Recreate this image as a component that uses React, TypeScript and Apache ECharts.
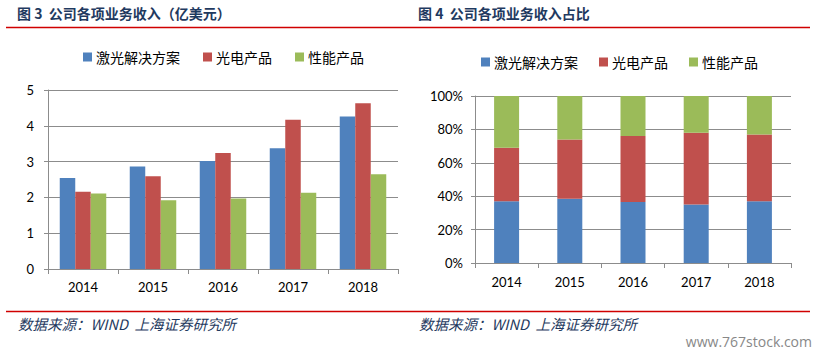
import React, { useEffect, useRef } from "react";
import * as echarts from "echarts";

const years = ["2014", "2015", "2016", "2017", "2018"];
const seriesNames = ["激光解决方案", "光电产品", "性能产品"];
const laserRevenue = [2.54, 2.86, 3.02, 3.37, 4.26];
const optoRevenue = [2.16, 2.59, 3.24, 4.17, 4.63];
const perfRevenue = [2.11, 1.92, 1.97, 2.13, 2.65];
const laserShare = [37, 38.5, 36.5, 35, 37];
const optoShare = [32, 35.5, 39.5, 43, 40];
const perfShare = [31, 26, 24, 22, 23];
const leftTitle = "图 3  公司各项业务收入（亿美元）";
const rightTitle = "图 4  公司各项业务收入占比";
const sourceText = "数据来源：WIND  上海证券研究所";
const watermark = "www.767stock.com";

const colors = ["#4F81BD", "#C0504D", "#9BBB59"];
const gridGray = "#8C8C8C";
const numFont = "Lato, 'Open Sans', sans-serif";
const cjkFont = "'Noto Sans CJK SC', sans-serif";

export default function App() {
  const ref = useRef<HTMLDivElement>(null);
  useEffect(() => {
    if (!ref.current) return;
    const chart = echarts.init(ref.current, undefined, { renderer: "svg" });
    const xAxisBase = (gridIndex: number, margin: number) => ({
      type: "category",
      gridIndex,
      data: years,
      axisLine: { show: true, lineStyle: { color: gridGray, width: 1 } },
      axisTick: { show: true, length: 5, lineStyle: { color: gridGray } },
      axisLabel: { color: "#000", fontSize: 13, fontFamily: numFont, margin },
    });
    const yAxisBase = (gridIndex: number) => ({
      type: "value",
      gridIndex,
      axisLine: { show: true, lineStyle: { color: gridGray, width: 1 } },
      axisTick: { show: true, length: 4, lineStyle: { color: gridGray } },
      splitLine: { show: true, lineStyle: { color: gridGray, width: 1 } },
    });
    const legendBase = {
      icon: "rect",
      itemWidth: 9,
      itemHeight: 9,
      data: seriesNames,
      textStyle: { fontSize: 14, fontFamily: cjkFont, color: "#000", padding: [0, 0, 0, -1] },
    };
    const revenues = [laserRevenue, optoRevenue, perfRevenue];
    const shares = [laserShare, optoShare, perfShare];
    const titleStyle = {
      fontSize: 14,
      fontWeight: "bold",
      fontFamily: cjkFont,
      fill: "#1F3A60",
    };
    const sourceStyle = {
      fontSize: 14.5,
      fontStyle: "italic",
      fontFamily: cjkFont,
      fill: "#1F3A60",
    };
    chart.setOption({
      animation: false,
      color: colors,
      legend: [
        { ...legendBase, left: 78, top: 45, itemGap: 23 },
        { ...legendBase, left: 476, top: 50, itemGap: 21 },
      ],
      grid: [
        { left: 48, top: 90, width: 350, height: 179 },
        { left: 475, top: 96, width: 316, height: 167 },
      ],
      xAxis: [xAxisBase(0, 11), xAxisBase(1, 12)],
      yAxis: [
        {
          ...yAxisBase(0),
          min: 0,
          max: 5,
          interval: 1,
          axisLabel: { color: "#000", fontSize: 13, fontFamily: numFont, margin: 14 },
        },
        {
          ...yAxisBase(1),
          min: 0,
          max: 100,
          interval: 20,
          axisLabel: {
            color: "#000",
            fontSize: 13,
            fontFamily: numFont,
            margin: 12,
            formatter: "{value}%",
          },
        },
      ],
      series: [
        ...revenues.map((d, i) => ({
          name: seriesNames[i],
          type: "bar",
          xAxisIndex: 0,
          yAxisIndex: 0,
          data: d,
          barWidth: 15.5,
          barGap: "0%",
          itemStyle: { color: colors[i] },
        })),
        ...shares.map((d, i) => ({
          name: seriesNames[i],
          type: "bar",
          stack: "share",
          xAxisIndex: 1,
          yAxisIndex: 1,
          data: d,
          barWidth: 25,
          itemStyle: { color: colors[i] },
        })),
      ],
      graphic: [
        { type: "text", left: 17, top: 6, style: { text: leftTitle, ...titleStyle } },
        { type: "text", left: 418, top: 6, style: { text: rightTitle, ...titleStyle } },
        {
          type: "line",
          shape: { x1: 6, y1: 27.5, x2: 810, y2: 27.5 },
          style: { stroke: "#D00000", lineWidth: 1.5 },
        },
        {
          type: "line",
          shape: { x1: 6, y1: 311.5, x2: 810, y2: 311.5 },
          style: { stroke: "#D00000", lineWidth: 1.5 },
        },
        { type: "text", left: 18, top: 316, style: { text: sourceText, ...sourceStyle } },
        { type: "text", left: 419, top: 316, style: { text: sourceText, ...sourceStyle } },
        {
          type: "text",
          right: 8,
          top: 334,
          style: {
            text: watermark,
            fontSize: 14,
            fontFamily: "'Open Sans', sans-serif",
            fill: "#888888",
          },
        },
      ],
    });
    return () => chart.dispose();
  }, []);
  return (
    <div
      ref={ref}
      style={{ position: "fixed", left: 0, top: 0, width: 820, height: 355, background: "#fff" }}
    />
  );
}
